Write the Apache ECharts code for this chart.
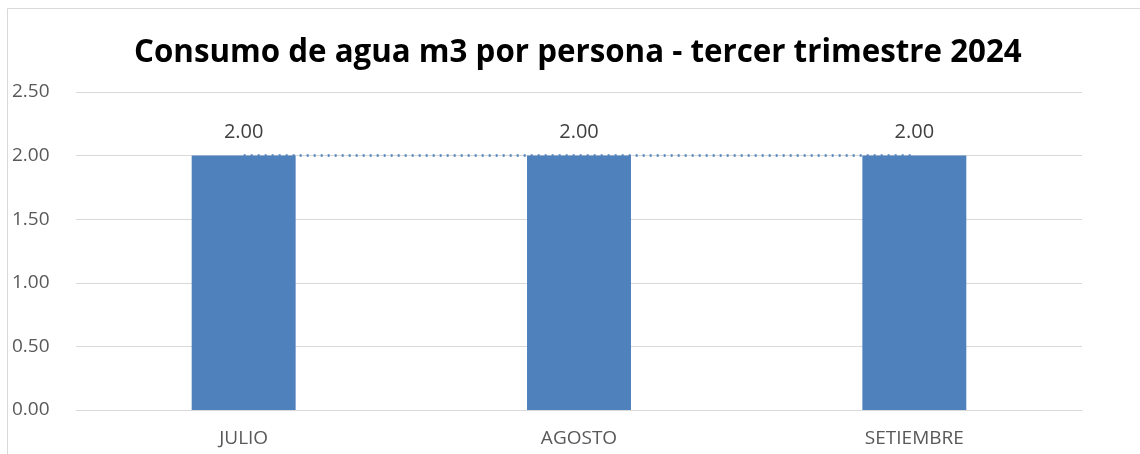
<!DOCTYPE html>
<html>
<head>
    <meta charset="utf-8">
    <title>Consumo de agua</title>
    <script src="https://cdn.jsdelivr.net/npm/echarts@6/dist/echarts.min.js"></script>
    <style>
        html, body { margin: 0; padding: 0; background: #fff; }
        #chart1 { width: 1140px; height: 454px; }
    </style>
</head>
<body>
<div id="chart1"></div>
<script type="text/javascript">
    // datos del grafico
    var meses = ['JULIO', 'AGOSTO', 'SETIEMBRE'];
    var consumo = [2.00, 2.00, 2.00];
    var tendencia = [2.00, 2.00, 2.00];
    var ticksY = [0, 0.5, 1, 1.5, 2, 2.5];

    var myChart1 = echarts.init(document.getElementById('chart1'));
    myChart1.setOption({
        animation: false,
        title: {
            text: 'Consumo de agua m3 por persona - tercer trimestre 2024',
            left: 134,
            top: 38,
            padding: 0,
            textStyle: {
                fontFamily: 'Open Sans',
                fontWeight: 'bold',
                fontSize: 31.3,
                color: '#000'
            }
        },
        graphic: [{
            type: 'rect',
            shape: { x: 7.5, y: 8.5, width: 1200, height: 600 },
            style: { fill: 'none', stroke: '#d9d9d9', lineWidth: 1 },
            silent: true
        }],
        grid: { left: 76, right: 58, top: 92, bottom: 44 },
        xAxis: {
            type: 'category',
            data: meses,
            axisLine: { lineStyle: { color: '#d9d9d9', width: 1 } },
            axisTick: { show: false },
            axisLabel: {
                color: '#595959',
                fontFamily: 'Open Sans',
                fontSize: 19,
                margin: 19
            }
        },
        yAxis: {
            type: 'value',
            min: ticksY[0],
            max: ticksY[ticksY.length - 1],
            interval: 0.5,
            axisLine: { show: false },
            axisTick: { show: false },
            splitLine: { lineStyle: { color: '#d9d9d9', width: 1 } },
            axisLabel: {
                color: '#595959',
                fontFamily: 'Open Sans',
                fontSize: 19,
                margin: 0,
                align: 'left',
                padding: [0, 0, 0, -64],
                formatter: function (v) { return v.toFixed(2); }
            }
        },
        series: [
            {
                name: 'Consumo',
                type: 'bar',
                data: consumo,
                barWidth: '31%',
                itemStyle: { color: '#4f81bd' },
                label: {
                    show: true,
                    position: 'top',
                    distance: 13,
                    color: '#404040',
                    fontFamily: 'Open Sans',
                    fontSize: 20,
                    formatter: function (p) { return p.value.toFixed(2); }
                }
            },
            {
                name: 'Tendencia',
                type: 'line',
                data: tendencia,
                symbol: 'none',
                z: 5,
                lineStyle: { color: '#4f81bd', width: 2.5, type: [2, 5] }
            }
        ]
    });
</script>
</body>
</html>
